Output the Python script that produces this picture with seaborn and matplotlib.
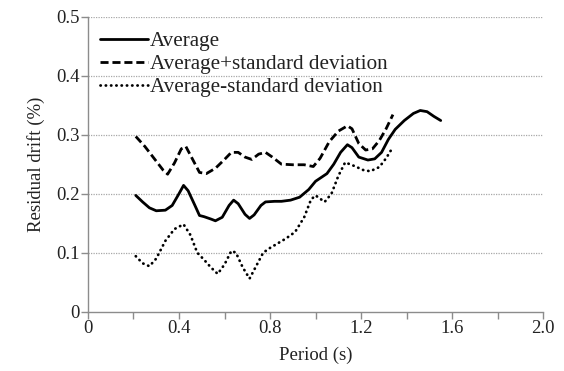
import numpy as np
import pandas as pd
import matplotlib
matplotlib.use("Agg")
import matplotlib.pyplot as plt
import seaborn as sns
from matplotlib.ticker import MultipleLocator

# Residual drift vs. period
avg_period = [0.21, 0.24, 0.27, 0.30, 0.34, 0.37, 0.40, 0.42, 0.44, 0.47, 0.49, 0.51, 0.54, 0.56, 0.59, 0.62, 0.64,
              0.66, 0.69, 0.71, 0.73, 0.76, 0.78, 0.82, 0.85, 0.89, 0.93, 0.97, 1.00, 1.05, 1.08, 1.11, 1.14,
              1.16, 1.19, 1.23, 1.26, 1.29, 1.32, 1.35, 1.39, 1.43, 1.46, 1.49, 1.52, 1.55]
avg_drift = [0.197, 0.186, 0.176, 0.171, 0.172, 0.180, 0.200, 0.214, 0.205, 0.180, 0.163, 0.161, 0.157, 0.154, 0.160,
             0.180, 0.189, 0.183, 0.165, 0.158, 0.164, 0.180, 0.186, 0.187, 0.187, 0.189, 0.194, 0.207, 0.221,
             0.234, 0.250, 0.270, 0.283, 0.278, 0.262, 0.257, 0.259, 0.270, 0.292, 0.309, 0.324, 0.336, 0.341,
             0.339, 0.331, 0.324]

plus_period = [0.21, 0.25, 0.29, 0.33, 0.35, 0.38, 0.41, 0.43, 0.46, 0.49, 0.52, 0.56, 0.60, 0.63, 0.66, 0.69,
               0.72, 0.75, 0.78, 0.81, 0.85, 0.90, 0.95, 0.99, 1.02, 1.06, 1.10, 1.14, 1.16, 1.19, 1.22, 1.25,
               1.28, 1.31, 1.34]
plus_drift = [0.297, 0.280, 0.260, 0.240, 0.233, 0.252, 0.276, 0.280, 0.258, 0.236, 0.234, 0.243, 0.258, 0.270,
              0.270, 0.262, 0.258, 0.267, 0.270, 0.262, 0.250, 0.249, 0.249, 0.246, 0.260, 0.288, 0.306, 0.315,
              0.310, 0.285, 0.274, 0.276, 0.290, 0.310, 0.334]

minus_period = [0.21, 0.24, 0.27, 0.30, 0.34, 0.38, 0.42, 0.45, 0.48, 0.51, 0.54, 0.57, 0.60, 0.63, 0.65,
                0.68, 0.71, 0.74, 0.77, 0.80, 0.87, 0.91, 0.95, 0.98, 1.00, 1.04, 1.07, 1.10, 1.13, 1.17,
                1.21, 1.24, 1.28, 1.31, 1.34]
minus_drift = [0.094, 0.082, 0.077, 0.090, 0.120, 0.140, 0.148, 0.130, 0.100, 0.088, 0.075, 0.064, 0.080, 0.103,
               0.100, 0.075, 0.056, 0.078, 0.100, 0.108, 0.124, 0.135, 0.160, 0.190, 0.197, 0.186, 0.200,
               0.230, 0.253, 0.247, 0.240, 0.238, 0.245, 0.260, 0.279]

x_ticks = [0, 0.4, 0.8, 1.2, 1.6, 2.0]
x_tick_labels = ["0", "0.4", "0.8", "1.2", "1.6", "2.0"]
y_ticks = [0, 0.1, 0.2, 0.3, 0.4, 0.5]
y_tick_labels = ["0", "0.1", "0.2", "0.3", "0.4", "0.5"]

sns.set_theme(style="white")
plt.rcParams["font.family"] = ["Liberation Serif", "DejaVu Serif"]
plt.rcParams["font.size"] = 13

fig = plt.figure(figsize=(5.64, 3.71), dpi=100)
ax = fig.add_axes([0.156, 0.160, 0.807, 0.795])

sns.lineplot(x=avg_period, y=avg_drift, ax=ax, color="black", lw=2.0,
             linestyle="-", label="Average", sort=False)
sns.lineplot(x=plus_period, y=plus_drift, ax=ax, color="black", lw=2.0,
             linestyle=(0, (2.9, 1.4)), label="Average+standard deviation", sort=False)
sns.lineplot(x=minus_period, y=minus_drift, ax=ax, color="black", lw=2.0,
             linestyle=(0, (0.1, 1.8)), dash_capstyle="round", label="Average-standard deviation", sort=False)

ax.set_xlim(0, 2.0)
ax.set_ylim(0, 0.5)
ax.set_xticks(x_ticks)
ax.set_xticklabels(x_tick_labels)
ax.xaxis.set_minor_locator(MultipleLocator(0.2))
ax.set_yticks(y_ticks)
ax.set_yticklabels(y_tick_labels)

for y in y_ticks[1:]:
    ax.axhline(y, color="#a8a8a8", lw=0.9, linestyle=(0, (1, 1)), zorder=0)

for side in ("top", "right"):
    ax.spines[side].set_visible(False)
for side in ("left", "bottom"):
    ax.spines[side].set_color("#8c8c8c")
    ax.spines[side].set_linewidth(1.0)

ax.tick_params(axis="both", which="major", direction="out", length=5, width=1.0,
               color="#8c8c8c", labelsize=13.5, pad=1, labelcolor="#222222",
               bottom=True, left=True)
ax.tick_params(axis="x", which="minor", direction="out", length=5, width=1.0,
               color="#8c8c8c", bottom=True)

ax.set_xlabel("Period (s)", fontsize=13.5, color="#222222", labelpad=7)
ax.set_ylabel("Residual drift (%)", fontsize=13.5, color="#222222", labelpad=8)

leg = ax.legend(loc="upper left", frameon=False, fontsize=15.2, handlelength=2.3,
                handletextpad=0.1, labelspacing=0.16, borderaxespad=0.15,
                bbox_to_anchor=(0.0, 0.99))
for t in leg.get_texts():
    t.set_color("#222222")

fig.savefig("out.png", dpi=100)
